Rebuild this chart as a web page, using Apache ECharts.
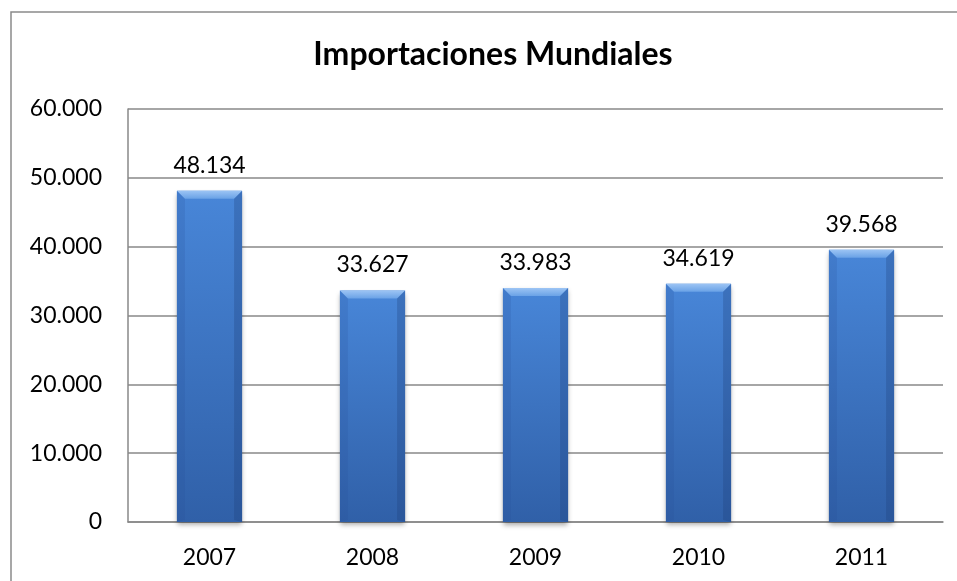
<!DOCTYPE html>
<html>
<head>
<meta charset="utf-8">
<script src="https://cdn.jsdelivr.net/npm/echarts@6/dist/echarts.min.js"></script>
<style>
  html, body { margin: 0; padding: 0; background: #ffffff; }
  #chart { width: 957px; height: 581px; }
</style>
</head>
<body>
<div id="chart"></div>
<script>
// Importaciones mundiales por año
const years = ['2007', '2008', '2009', '2010', '2011'];
const importaciones = [48134, 33627, 33983, 34619, 39568];
const yTicks = [0, 10000, 20000, 30000, 40000, 50000, 60000];

const FONT = 'Lato, "Open Sans", sans-serif';

// Separador de miles con punto
function fmt(v) {
  return String(Math.round(v)).replace(/\B(?=(\d{3})+(?!\d))/g, '.');
}

const chart = echarts.init(document.getElementById('chart'), null, { renderer: 'canvas' });

// Biselado superior y bordes laterales de cada barra
function bevel(params, api) {
  const idx = api.value(0);
  const val = api.value(1);
  const top = api.coord([idx, val]);
  const base = api.coord([idx, 0]);
  const w = api.size([1, 0])[0] * 0.4;
  const x0 = top[0] - w / 2, x1 = top[0] + w / 2;
  const y0 = top[1], y1 = base[1];
  const b = 8;
  return {
    type: 'group',
    children: [
      { type: 'polygon', shape: { points: [[x0, y0], [x1, y0], [x1 - b, y0 + b], [x0 + b, y0 + b]] },
        style: { fill: new echarts.graphic.LinearGradient(0, 0, 0, 1, [
          { offset: 0, color: '#9cc4f4' }, { offset: 1, color: '#6aa2e6' }]) } },
      { type: 'polygon', shape: { points: [[x0, y0], [x0 + b, y0 + b], [x0 + b, y1 - 2], [x0, y1]] },
        style: { fill: 'rgba(40,80,150,0.18)' } },
      { type: 'polygon', shape: { points: [[x1, y0], [x1 - b, y0 + b], [x1 - b, y1 - 2], [x1, y1]] },
        style: { fill: 'rgba(30,60,120,0.28)' } }
    ]
  };
}

chart.setOption({
  animation: false,
  title: {
    text: 'Importaciones Mundiales',
    left: 488,
    textAlign: 'center',
    top: 34,
    textStyle: { fontFamily: FONT, fontWeight: 'bold', fontSize: 32, color: '#000000' }
  },
  graphic: [{
    type: 'rect',
    shape: { x: 11, y: 12, width: 960, height: 600 },
    style: { fill: 'none', stroke: '#8a8a8a', lineWidth: 1.5 },
    silent: true
  }],
  grid: { left: 128, right: 14, top: 109, bottom: 59 },
  xAxis: {
    type: 'category',
    data: years,
    axisLine: { show: true, lineStyle: { color: '#888888', width: 1.5 } },
    axisTick: { show: false },
    axisLabel: { fontFamily: FONT, fontSize: 23, color: '#000000', margin: 24 }
  },
  yAxis: {
    type: 'value',
    min: yTicks[0],
    max: yTicks[yTicks.length - 1],
    interval: yTicks[1] - yTicks[0],
    axisLine: { show: true, lineStyle: { color: '#888888', width: 1.5 } },
    axisTick: { show: false },
    splitLine: { show: true, lineStyle: { color: '#888888', width: 1.5 } },
    axisLabel: { fontFamily: FONT, fontSize: 23, color: '#000000', margin: 26, formatter: fmt }
  },
  series: [
    {
      type: 'bar',
      data: importaciones,
      barWidth: '40%',
      itemStyle: {
        color: new echarts.graphic.LinearGradient(0, 0, 0, 1, [
          { offset: 0, color: '#4886d8' },
          { offset: 1, color: '#3060a8' }
        ]),
        shadowColor: 'rgba(0,0,0,0.35)',
        shadowBlur: 5,
        shadowOffsetY: 3
      },
      label: {
        show: true,
        position: 'top',
        distance: 14,
        fontFamily: FONT,
        fontSize: 23,
        color: '#000000',
        formatter: p => fmt(p.value)
      }
    },
    {
      type: 'custom',
      silent: true,
      renderItem: bevel,
      data: importaciones.map((v, i) => [i, v]),
      z: 3
    }
  ]
});
</script>
</body>
</html>
